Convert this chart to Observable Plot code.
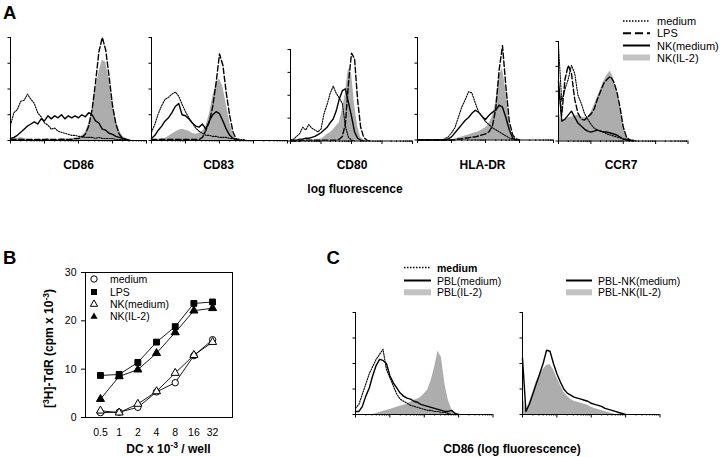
<!DOCTYPE html>
<html><head><meta charset="utf-8">
<script src="https://cdn.jsdelivr.net/npm/d3@7"></script>
<script src="https://cdn.jsdelivr.net/npm/@observablehq/plot@0.6"></script>
<style>
body{margin:0;background:#fff;}
#fig{position:relative;width:720px;height:457px;overflow:hidden;font-family:"Liberation Sans",Arial,sans-serif;color:#000;background:#fff;}
#fig svg{font-family:"Liberation Sans",Arial,sans-serif;}
</style></head><body><div id="fig"></div>
<script>
// ---------- DATA ----------
// Histograms: values in % of axis height, bins every 0.1 log-decade starting at 10^0
const STEP = 0.1;
const histoSeries = ["medium", "LPS", "NK(medium)", "NK(IL-2)"];
const markers = ["CD86", "CD83", "CD80", "HLA-DR", "CCR7"];

const cd86_medium = [15,27,30,38,39,45,40,36,27,23,17,15,11,12,9,8,7,6,5,5,4,4,3,3,3,2,3,2,2,2,2,1,1,1,0];
const cd86_lps    = [1,1,1,1,1,1,1,1,1,1,1,1,1,1,1,1,1,1,1,2,2,3,6,14,30,56,86,100,88,62,34,16,6,2,1,0];
const cd86_nkMed  = [2,3,5,8,11,14,16,18,16,21,19,24,21,24,22,25,21,24,22,24,22,25,23,27,25,19,17,11,10,7,6,4,3,2,1,0];
const cd86_nkIL2  = [1,3,2,3,2,1,1,1,1,1,1,2,1,1,1,2,2,1,2,2,2,4,8,16,30,48,66,78,76,60,36,20,10,4,2,1,0];

const cd83_medium = [8,16,26,34,40,42,45,47,43,35,28,22,17,12,9,7,5,5,4,4,3,3,3,2,2,2,1,1,0];
const cd83_lps    = [1,1,1,1,1,1,1,1,1,1,1,1,1,1,1,3,10,18,33,56,84,73,46,24,8,1,0];
const cd83_nkMed  = [2,5,10,14,19,22,27,33,36,25,24,21,17,14,13,16,11,19,25,28,26,19,11,5,2,0];
const cd83_nkIL2  = [0,0,1,2,2,4,6,8,10,11,10,9,7,6,7,9,14,25,42,55,60,52,35,18,6,1,0];

const cd80_medium = [1,2,5,8,15,12,18,14,12,10,13,30,40,52,60,52,47,41,16,4,1,0];
const cd80_lps    = [0,0,0,0,1,1,1,1,1,1,1,1,1,1,1,1,2,5,19,63,96,90,45,15,4,1,0];
const cd80_nkMed  = [1,1,1,2,2,3,3,4,5,7,9,12,15,20,24,33,46,55,57,42,27,10,3,1,0];
const cd80_nkIL2  = [0,0,0,0,0,1,1,1,1,2,2,4,7,9,12,16,20,34,52,79,74,40,16,4,1,0];

const hla_medium  = [0,0,0,0,0,0,0,0,1,3,7,12,22,32,39,47,46,36,27,23,18,15,12,10,8,6,4,2,1,0];
const hla_lps     = [0,0,0,0,0,0,0,0,0,0,0,0,1,1,2,2,3,3,4,5,6,8,13,30,68,92,52,18,5,1,0];
const hla_nkMed   = [0,0,0,0,0,0,0,0,0,1,3,7,11,15,19,22,26,29,27,23,20,24,27,29,34,32,22,10,2,0];
const hla_nkIL2   = [0,0,0,0,0,0,0,0,0,0,0,1,2,3,4,5,6,7,8,10,12,15,23,36,62,70,48,16,3,0];

const ccr7_medium = [95,40,52,62,76,68,46,38,28,22,17,13,11,10,9,7,6,5,4,3,2,2,1,1,0];
const ccr7_lps    = [55,26,62,76,68,42,28,22,21,24,27,32,42,50,58,62,65,60,50,34,14,4,1,0];
const ccr7_nkMed  = [60,20,22,26,30,24,18,15,12,10,9,10,11,10,9,9,8,7,6,4,2,1,0];
const ccr7_nkIL2  = [30,19,21,23,24,25,26,24,23,24,28,36,44,52,60,66,70,63,50,36,16,5,1,0];

// Panel C
const cSeriesLeft  = ["medium", "PBL(medium)", "PBL(IL-2)"];
const cSeriesRight = ["PBL-NK(medium)", "PBL-NK(IL-2)"];
const c_medium     = [6,10,20,30,40,47,54,59,64,44,36,28,20,15,13,11,9,8,7,6,5,4,4,3,3,2,2,1,0];
const c_pblMed     = [3,3,8,18,26,38,48,54,53,50,38,31,26,21,18,16,15,13,12,10,9,8,7,6,5,4,3,3,4,1,0];
const c_pblIL2     = [0,0,0,0,0,0,1,2,3,4,5,6,7,8,9,10,12,14,15,17,20,24,33,46,62,56,30,14,5,1,0];
const c_pblNkMed   = [55,3,10,20,30,40,50,63,62,50,40,32,25,21,19,17,16,15,14,13,11,10,9,8,6,5,4,3,2,1,0];
const c_pblNkIL2   = [20,4,12,22,32,39,44,48,49,44,36,29,22,18,15,13,12,11,10,9,7,6,5,4,3,2,1,0];

// Panel B: proliferation
const dcPerWell   = [0.5, 1, 2, 4, 8, 16, 32];
const bSeries     = ["medium", "LPS", "NK(medium)", "NK(IL-2)"];
const b_medium    = [1.0, 1.1, 2.1, 5.3, 7.2, 12.8, 16.1];
const b_lps       = [8.7, 8.9, 11.4, 15.6, 18.8, 23.6, 23.9];
const b_nkMed     = [1.4, 1.0, 2.8, 5.4, 9.2, 12.9, 15.6];
const b_nkIL2     = [3.8, 8.5, 9.9, 13.3, 17.6, 22.1, 22.6];
const bYTicks     = [0, 10, 20, 30];

// ---------- DRAWING ----------
const fig = document.getElementById("fig");
const FILL = "#adadad";
const STYLES = {
  dotted: {stroke: "#000", strokeWidth: 1.1, strokeDasharray: "1.3,1.3"},
  dashed: {stroke: "#000", strokeWidth: 1.4, strokeDasharray: "5.5,2.5"},
  solid:  {stroke: "#000", strokeWidth: 1.4}
};
const decades = [0, 1, 2, 3, 4];
const minorTicks = [];
for (let d = 0; d < 4; d++) for (let k = 2; k <= 9; k++) minorTicks.push(d + Math.log10(k));

function histogram({x0, x4, yTop, yBot, series}) {
  const mL = 6, mR = 4, mT = 3, mB = 7;
  const w = x4 - x0, h = yBot - yTop;
  const toData = arr => arr.map((v, i) => ({x: i * STEP, y: v / 100}));
  const marks = [];
  for (const s of series) if (s.kind === "fill")
    marks.push(Plot.areaY(toData(s.values), {x: "x", y: "y", fill: FILL}));
  for (const s of series) if (s.kind !== "fill")
    marks.push(Plot.line(toData(s.values), {x: "x", y: "y", ...STYLES[s.kind]}));
  marks.push(Plot.axisY({ticks: [0, 0.25, 0.5, 0.75, 1], tickSize: 2.5, tickFormat: () => "", label: null}));
  marks.push(Plot.axisX({ticks: minorTicks, tickSize: 1.5, tickFormat: () => "", label: null}));
  marks.push(Plot.axisX({ticks: decades, tickSize: 3.5, tickFormat: () => "", label: null}));
  marks.push(Plot.ruleX([0], {strokeWidth: 1}));
  marks.push(Plot.ruleY([0], {strokeWidth: 1}));
  const svg = Plot.plot({
    width: w + mL + mR, height: h + mT + mB,
    marginLeft: mL, marginRight: mR, marginTop: mT, marginBottom: mB,
    x: {domain: [0, 4]}, y: {domain: [0, 1]},
    style: {background: "transparent", overflow: "visible"},
    marks
  });
  svg.style.position = "absolute";
  svg.style.left = (x0 - mL) + "px";
  svg.style.top = (yTop - mT) + "px";
  fig.appendChild(svg);
}

const aSets = [
  [cd86_medium, cd86_lps, cd86_nkMed, cd86_nkIL2],
  [cd83_medium, cd83_lps, cd83_nkMed, cd83_nkIL2],
  [cd80_medium, cd80_lps, cd80_nkMed, cd80_nkIL2],
  [hla_medium, hla_lps, hla_nkMed, hla_nkIL2],
  [ccr7_medium, ccr7_lps, ccr7_nkMed, ccr7_nkIL2]
];
const aFrames = [
  {x0: 10, x4: 146, yTop: 37, yBot: 140},
  {x0: 151, x4: 287, yTop: 37, yBot: 140},
  {x0: 290, x4: 412, yTop: 48.5, yBot: 140},
  {x0: 417, x4: 553, yTop: 37, yBot: 139.5},
  {x0: 557.5, x4: 687, yTop: 40.5, yBot: 140}
];
const aKinds = ["dotted", "dashed", "solid", "fill"];
aSets.forEach((set, i) => histogram({...aFrames[i], series: set.map((values, j) => ({values, kind: aKinds[j]}))}));

histogram({x0: 354.5, x4: 492, yTop: 312, yBot: 414, series: [
  {values: c_pblIL2, kind: "fill"}, {values: c_medium, kind: "dotted"}, {values: c_pblMed, kind: "solid"}]});
histogram({x0: 521.5, x4: 659, yTop: 312, yBot: 414, series: [
  {values: c_pblNkIL2, kind: "fill"}, {values: c_pblNkMed, kind: "solid"}]});

// Panel B
const bRows = [];
const bDefs = [
  {vals: b_medium, symbol: "circle", fill: "#fff", r: 3.2},
  {vals: b_lps, symbol: "square", fill: "#000", r: 3.3},
  {vals: b_nkMed, symbol: "triangle", fill: "#fff", r: 3.0},
  {vals: b_nkIL2, symbol: "triangle", fill: "#000", r: 3.0}
];
bDefs.forEach((d, si) => d.vals.forEach((v, i) => bRows.push({series: bSeries[si], dc: dcPerWell[i], v})));
const bMarks = [
  Plot.frame({strokeWidth: 1}),
  Plot.axisY({ticks: bYTicks, tickSize: 4, tickPadding: 5, fontSize: 10.5, label: null}),
  Plot.axisX({ticks: dcPerWell, tickSize: 0, tickPadding: 11, fontSize: 10.5, label: null, tickFormat: d => String(d)})
];
bDefs.forEach((d, si) => {
  const rows = bRows.filter(r => r.series === bSeries[si]);
  bMarks.push(Plot.line(rows, {x: "dc", y: "v", stroke: "#000", strokeWidth: 0.9}));
});
bDefs.forEach((d, si) => {
  const rows = bRows.filter(r => r.series === bSeries[si]);
  bMarks.push(Plot.dot(rows, {x: "dc", y: "v", symbol: d.symbol, fill: d.fill, stroke: "#000", strokeWidth: 1, r: d.r}));
});
const bSvg = Plot.plot({
  width: 260, height: 227, marginLeft: 85, marginRight: 28, marginTop: 42, marginBottom: 40,
  x: {type: "log", base: 2, domain: [0.287, 67]},
  y: {domain: [0, 30]},
  symbol: {type: "identity"},
  style: {background: "transparent", overflow: "visible", fontSize: "10.5px"},
  marks: bMarks
});
bSvg.style.position = "absolute"; bSvg.style.left = "0px"; bSvg.style.top = "230px";
fig.appendChild(bSvg);

// ---------- TEXT & LEGENDS (overlay) ----------
const sym = {
  circle: (x, y) => `<circle cx="${x}" cy="${y}" r="3.2" fill="#fff" stroke="#000"/>`,
  square: (x, y) => `<rect x="${x-3}" y="${y-3}" width="6" height="6" fill="#000"/>`,
  triO: (x, y) => `<path d="M${x},${y-3.6}L${x+3.6},${y+2.8}L${x-3.6},${y+2.8}Z" fill="#fff" stroke="#000"/>`,
  triF: (x, y) => `<path d="M${x},${y-3.6}L${x+3.6},${y+2.8}L${x-3.6},${y+2.8}Z" fill="#000"/>`
};
const sample = {
  dotted: (x1, x2, y) => `<line x1="${x1}" x2="${x2}" y1="${y}" y2="${y}" stroke="#000" stroke-width="1.6" stroke-dasharray="1.5,1.5"/>`,
  dashed: (x1, x2, y) => `<line x1="${x1}" x2="${x2}" y1="${y}" y2="${y}" stroke="#000" stroke-width="2" stroke-dasharray="8,4"/>`,
  solid:  (x1, x2, y) => `<line x1="${x1}" x2="${x2}" y1="${y}" y2="${y}" stroke="#000" stroke-width="2"/>`,
  fill:   (x1, x2, y) => `<rect x="${x1}" y="${y-3}" width="${x2-x1}" height="6" fill="#c2c2c2"/>`
};
let o = `<svg width="720" height="457" style="position:absolute;left:0;top:0" font-family="Liberation Sans, Arial, sans-serif">`;
// panel letters
o += `<text x="3" y="18.5" font-size="18.5" font-weight="bold">A</text>`;
o += `<text x="3" y="263.5" font-size="18.5" font-weight="bold">B</text>`;
o += `<text x="326.5" y="263.5" font-size="18.5" font-weight="bold">C</text>`;
// panel A labels
const aLabelX = [78.5, 218.5, 352, 482.5, 621];
markers.forEach((m, i) => o += `<text x="${aLabelX[i]}" y="168.5" font-size="12" font-weight="bold" text-anchor="middle">${m}</text>`);
o += `<text x="355" y="193" font-size="12" font-weight="bold" text-anchor="middle">log fluorescence</text>`;
// panel A legend
const aLegY = [21, 33.3, 45.5, 57.5];
histoSeries.forEach((s, i) => {
  o += sample[aKinds[i]](623, 650, aLegY[i]);
  o += `<text x="657" y="${aLegY[i] + 4}" font-size="11">${s}</text>`;
});
// panel B legend
const bSym = [sym.circle, sym.square, sym.triO, sym.triF];
const bLegY = [279, 292, 303.5, 316];
bSeries.forEach((s, i) => {
  o += bSym[i](94, bLegY[i]);
  o += `<text x="110" y="${bLegY[i] + 4}" font-size="10.5">${s}</text>`;
});
// panel B axis titles
o += `<text transform="translate(53,348.5) rotate(-90)" font-size="12" font-weight="bold" text-anchor="middle">[<tspan dy="-4.5" font-size="8.5">3</tspan><tspan dy="4.5">H]-TdR (cpm x 10</tspan><tspan dy="-4.5" font-size="8.5">-3</tspan><tspan dy="4.5">)</tspan></text>`;
o += `<text x="168.5" y="452.5" font-size="12" font-weight="bold" text-anchor="middle">DC x 10<tspan dy="-4.5" font-size="8.5">-3</tspan><tspan dy="4.5"> / well</tspan></text>`;
// panel C legends
const cKindsL = ["dotted", "solid", "fill"];
const cLegY = [267.5, 280.5, 292.3];
cSeriesLeft.forEach((s, i) => {
  o += sample[cKindsL[i]](404, 431, cLegY[i]);
  o += `<text x="437" y="${cLegY[i] + 4}" font-size="10.5" ${i === 0 ? 'font-weight="bold"' : ''}>${s}</text>`;
});
const cKindsR = ["solid", "fill"];
cSeriesRight.forEach((s, i) => {
  o += sample[cKindsR[i]](566, 592, cLegY[i + 1]);
  o += `<text x="598" y="${cLegY[i + 1] + 4}" font-size="10.5">${s}</text>`;
});
o += `<text x="512" y="453" font-size="12" font-weight="bold" text-anchor="middle">CD86 (log fluorescence)</text>`;
o += `</svg>`;
fig.insertAdjacentHTML("beforeend", o);
</script>
</body></html>
